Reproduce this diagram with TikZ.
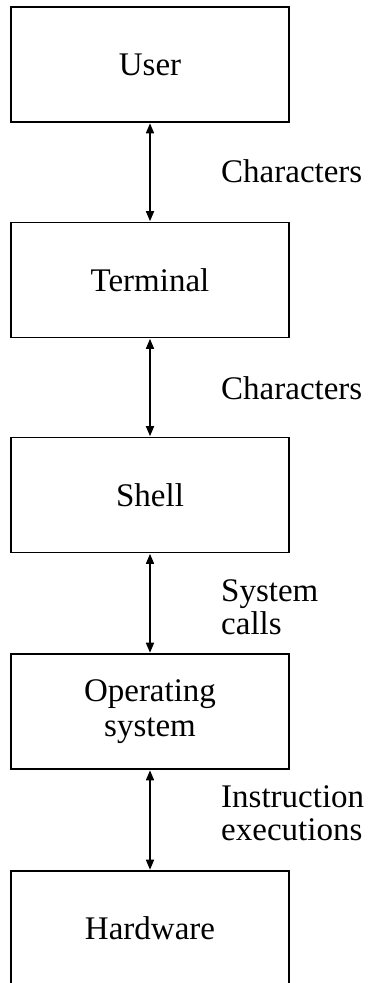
\documentclass[tikz,border=0pt]{standalone}
\usepackage{fontspec}
\setmainfont{Liberation Serif}
\usetikzlibrary{arrows.meta}
\begin{document}
\begin{tikzpicture}[x=1pt,y=-1pt,
  layer/.style={draw=black,line width=1.6pt,minimum width=278pt,minimum height=115pt,
    inner sep=0pt,font=\fontsize{33}{35}\selectfont,align=center},
  link/.style={line width=1.6pt,{Triangle[length=10pt,width=8pt]}-{Triangle[length=10pt,width=8pt]},shorten <=0.5pt,shorten >=0.5pt},
  tag/.style={anchor=west,inner sep=0pt,font=\fontsize{33}{33}\selectfont,align=left}]
  \useasboundingbox (0,0) rectangle (371,983);
  \clip (0,0) rectangle (371,983);
  \fill[white] (0,0) rectangle (371,983);
  % stacked layers
  \node[layer] (user) at (150,64.5) {User};
  \node[layer] (term) at (150,280) {Terminal};
  \node[layer] (shell) at (150,495) {Shell};
  \node[layer] (os) at (150,711.5) {Operating\\system};
  \node[layer] (hw) at (150,928.5) {Hardware};
  % two-way links between neighbouring layers
  \draw[link] (user.south) -- (term.north);
  \draw[link] (term.south) -- (shell.north);
  \draw[link] (shell.south) -- (os.north);
  \draw[link] (os.south) -- (hw.north);
  % link labels
  \node[tag] (l1) at (221,171) {Characters};
  \node[tag] (l2) at (221,388) {Characters};
  \node[tag] (l3) at (221,607) {System\\calls};
  \node[tag] (l4) at (221,813) {Instruction\\executions};
\end{tikzpicture}
\end{document}
